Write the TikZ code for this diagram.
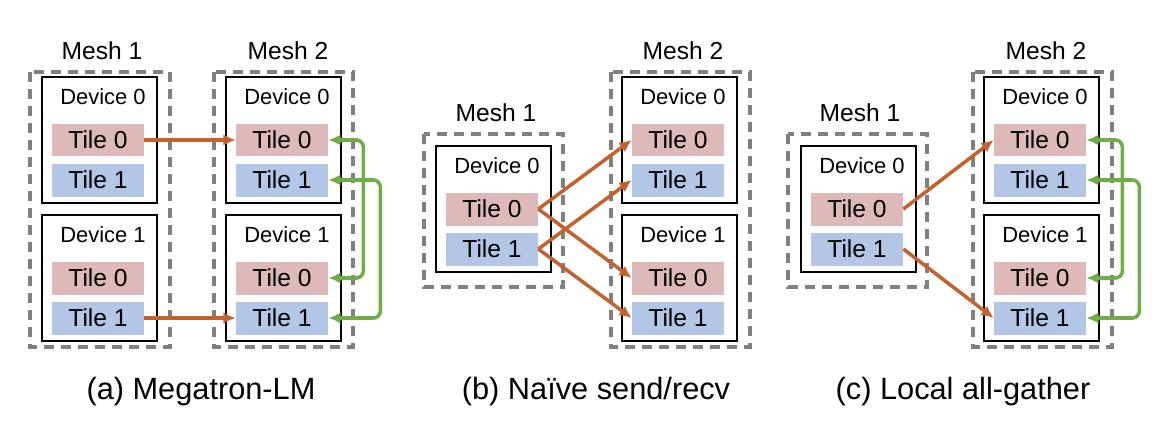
\documentclass[tikz,border=0pt]{standalone}
\usepackage{fontspec}
\setmainfont{Liberation Sans}
\usepackage{tikz}
\usetikzlibrary{calc,arrows,arrows.meta,positioning}
\definecolor{tilepink}{HTML}{DDBAB9}
\definecolor{tileblue}{HTML}{B4C6E6}
\definecolor{sendorange}{HTML}{C4622D}
\definecolor{gathergreen}{HTML}{70AD47}
\definecolor{meshgray}{HTML}{808080}
\tikzstyle{meshbox} = [draw=meshgray, line width=2.2pt, dash pattern=on 0.2cm off 0.14cm]
\tikzstyle{devbox} = [draw, line width=1.1pt, minimum width=2.3cm, minimum height=2.52cm, inner sep=0pt]
\tikzstyle{tile} = [minimum width=1.84cm, minimum height=0.66cm, inner sep=0pt, font=\fontsize{14}{16}\selectfont]
\tikzstyle{sendarrow} = [draw=sendorange, line width=2pt, -{Latex[length=7pt,width=6.5pt]}]
\tikzstyle{gatherarrow} = [draw=gathergreen, line width=2pt, {Latex[length=7pt,width=6.5pt]}-{Latex[length=7pt,width=6.5pt]}, rounded corners=4pt]
% one device: box, label and two tiles (#1-t0, #1-t1)
\newcommand{\device}[4]{
  \node[devbox] (#1) at (#2+57.5,#3+63) {};
  \node[font=\fontsize{12.5}{14}\selectfont] (#1-lab) at (#2+61,#3+20) {Device #4};
  \node[tile,fill=tilepink] (#1-t0) at (#2+56,#3+63) {Tile 0};
  \node[tile,fill=tileblue] (#1-t1) at (#2+56,#3+103) {Tile 1};
}
\begin{document}
\begin{tikzpicture}[x=0.02cm,y=-0.02cm]
    \useasboundingbox (0,0) rectangle (1168,436);
    % (a) Megatron-LM
    \draw[meshbox] (30,72) rectangle ++(140,275);
    \draw[meshbox] (214,72) rectangle ++(139,275);
    \node[font=\fontsize{14}{16}\selectfont] (a1-lab) at (102,51) {Mesh 1};
    \node[font=\fontsize{14}{16}\selectfont] (a2-lab) at (288,51) {Mesh 2};
    \device{a1d0}{42}{77}{0}
    \device{a1d1}{42}{215}{1}
    \device{a2d0}{226}{77}{0}
    \device{a2d1}{226}{215}{1}
    \draw[sendarrow] (a1d0-t0.east) -- (a2d0-t0.west);
    \draw[sendarrow] (a1d1-t1.east) -- (a2d1-t1.west);
    \draw[gatherarrow] (a2d0-t0.east) -- ++(35,0) |- (a2d1-t0.east);
    \draw[gatherarrow] (a2d0-t1.east) -- ++(52,0) |- (a2d1-t1.east);
    \node[anchor=base,font=\fontsize{17.5}{20}\selectfont] (cap-a) at (201,399) {(a) Megatron-LM};
    % (b) Naive send/recv
    \draw[meshbox] (424,134) rectangle ++(139,153);
    \draw[meshbox] (611,72) rectangle ++(139,275);
    \node[font=\fontsize{14}{16}\selectfont] (b1-lab) at (496,113) {Mesh 1};
    \node[font=\fontsize{14}{16}\selectfont] (b2-lab) at (683,51) {Mesh 2};
    \device{b1d0}{436}{146}{0}
    \device{b2d0}{622}{77}{0}
    \device{b2d1}{622}{215}{1}
    \draw[sendarrow] (b1d0-t0.east) -- (b2d0-t0.west);
    \draw[sendarrow] (b1d0-t0.east) -- (b2d1-t0.west);
    \draw[sendarrow] (b1d0-t1.east) -- (b2d0-t1.west);
    \draw[sendarrow] (b1d0-t1.east) -- (b2d1-t1.west);
    \node[anchor=base,font=\fontsize{17.5}{20}\selectfont] (cap-b) at (596,399) {(b) Naïve send/recv};
    % (c) Local all-gather
    \draw[meshbox] (788,134) rectangle ++(139,153);
    \draw[meshbox] (973,72) rectangle ++(139,275);
    \node[font=\fontsize{14}{16}\selectfont] (c1-lab) at (860,113) {Mesh 1};
    \node[font=\fontsize{14}{16}\selectfont] (c2-lab) at (1046,51) {Mesh 2};
    \device{c1d0}{801}{146}{0}
    \device{c2d0}{984}{77}{0}
    \device{c2d1}{984}{215}{1}
    \draw[sendarrow] (c1d0-t0.east) -- (c2d0-t0.west);
    \draw[sendarrow] (c1d0-t1.east) -- (c2d1-t1.west);
    \draw[gatherarrow] (c2d0-t0.east) -- ++(36,0) |- (c2d1-t0.east);
    \draw[gatherarrow] (c2d0-t1.east) -- ++(53,0) |- (c2d1-t1.east);
    \node[anchor=base,font=\fontsize{17.5}{20}\selectfont] (cap-c) at (963,399) {(c) Local all-gather};
  \end{tikzpicture}
\end{document}
